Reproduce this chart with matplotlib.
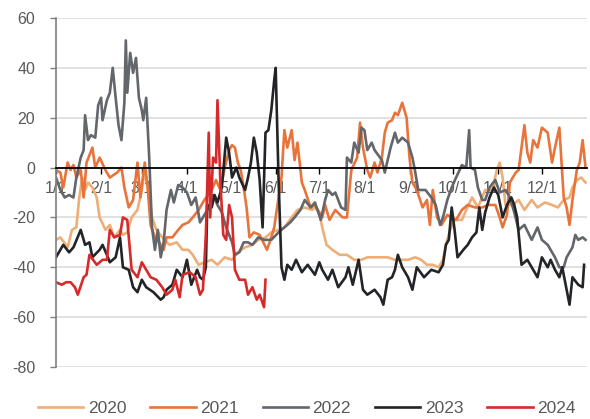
import numpy as np
import matplotlib.pyplot as plt

plt.rcParams['font.family'] = ['Liberation Sans', 'DejaVu Sans']
plt.rcParams['axes.unicode_minus'] = False   # plain hyphen like the original

# month ticks (day of year) and labels
month_days = [0, 31, 59, 90, 120, 151, 181, 212, 243, 273, 304, 334]
month_labels = ['1/1', '2/1', '3/1', '4/1', '5/1', '6/1', '7/1', '8/1', '9/1', '10/1', '11/1', '12/1']

years = ['2020', '2021', '2022', '2023', '2024']
colors = ['#EDAE78', '#E8743B', '#63666B', '#222427', '#D62A2B']

# 2020
d2020 = [0, 3, 8, 11, 14, 16, 18, 20, 22, 25, 28, 30, 34, 37, 40, 44, 46, 49, 52, 56,
         59, 61, 63, 66, 69, 73, 78, 83, 87, 91, 94, 98, 102, 107, 111, 116, 121, 125, 130, 135,
         139, 144, 148, 153, 157, 162, 166, 171, 176, 178, 181, 183, 186, 190, 195, 200, 205, 210, 214, 219,
         224, 228, 233, 238, 242, 247, 251, 255, 259, 263, 266, 268, 271, 274, 279, 282, 286, 290, 295, 300,
         303, 305, 307, 309, 314, 318, 322, 327, 331, 336, 341, 345, 349, 353, 355, 358, 361, 364]
v2020 = [-29, -28, -32, -25, -24, -12, -4, -9, -6, -8, -12, -20, -25, -23, -28, -25, -27, -26, -20, -17,
         -9, -1, -8, -20, -25, -28, -31, -30, -33, -33, -35, -39, -38, -37, -39, -36, -37, -34, -32, -31,
         -29, -28, -26, -25, -24, -20, -17, -16, -17, -16, -18, -24, -31, -33, -35, -35, -37, -37, -36, -36,
         -36, -36, -37, -37, -37, -36, -37, -39, -39, -40, -37, -31, -25, -21, -21, -17, -12, -16, -9, -9,
         -1, 2, -4, -15, -15, -13, -17, -13, -16, -14, -15, -16, -13, -12, -8, -5, -4, -6]

# 2021
d2021 = [0, 3, 5, 8, 10, 12, 14, 17, 19, 21, 25, 27, 30, 34, 37, 42, 45, 47, 50, 53,
         56, 58, 61, 63, 65, 68, 71, 74, 76, 80, 84, 87, 91, 94, 98, 102, 107, 110, 113, 116,
         119, 121, 123, 125, 127, 129, 131, 133, 136, 140, 145, 148, 150, 153, 155, 157, 159, 162, 164, 166,
         169, 171, 175, 178, 183, 185, 188, 192, 197, 200, 203, 207, 209, 211, 214, 216, 219, 221, 224, 226,
         228, 231, 233, 235, 238, 241, 243, 245, 248, 252, 255, 257, 259, 262, 265, 269, 272, 275, 279, 283,
         288, 293, 297, 302, 305, 307, 310, 312, 316, 318, 320, 322, 324, 326, 328, 331, 334, 336, 338, 341,
         343, 346, 349, 351, 353, 355, 358, 360, 362, 364]
v2021 = [-1, -2, -8, 2, -1, 1, -4, -1, -12, 2, 8, 0, 4, -1, -4, -2, 0, -8, -16, -13,
         2, -12, 2, -8, -23, -28, -30, -33, -28, -28, -25, -23, -22, -20, -17, -13, -9, -5, -9, 0,
         7, 9, 8, 2, -1, -8, -16, -28, -26, -27, -33, -28, -24, -12, -4, 15, 8, 15, 3, 10,
         -6, -9, -16, -15, -20, -15, -21, -17, -20, -20, -1, 4, 18, 8, -1, -4, 2, -2, 4, 14,
         18, 19, 22, 21, 26, 20, 4, -6, -9, -16, -13, -23, -9, -20, -23, -19, -20, -21, -17, -15,
         -16, -16, -15, -15, -20, -24, -19, -6, -2, -1, 8, 17, 6, 2, 11, 8, 16, 15, 14, 2,
         8, 16, -12, -16, -23, -13, -1, 2, 11, 0]

# 2022
d2022 = [0, 3, 6, 9, 12, 14, 17, 19, 20, 22, 24, 27, 29, 31, 32, 35, 37, 39, 41, 43,
         45, 47, 48, 49, 51, 53, 55, 57, 59, 60, 62, 64, 66, 68, 70, 72, 74, 76, 79, 81,
         84, 87, 90, 93, 96, 99, 102, 105, 108, 111, 114, 117, 121, 123, 126, 129, 132, 135, 139, 143,
         148, 153, 157, 161, 164, 168, 171, 175, 178, 182, 185, 187, 190, 192, 196, 199, 200, 203, 205, 208,
         210, 212, 214, 217, 219, 224, 226, 230, 233, 235, 238, 242, 245, 247, 249, 254, 258, 261, 264, 266,
         269, 272, 275, 279, 282, 284, 285, 288, 290, 293, 295, 298, 302, 305, 309, 312, 315, 318, 322, 327,
         331, 334, 338, 343, 346, 349, 351, 355, 357, 359, 362, 364]
v2022 = [-4, -9, -12, -11, -12, -4, 4, 7, 21, 11, 13, 12, 25, 28, 19, 27, 30, 40, 28, 17,
         11, 26, 51, 30, 46, 38, 44, 28, 23, 19, 28, 5, -24, -33, -25, -36, -30, -17, -9, -14,
         -7, -8, -10, -15, -12, -22, -19, -16, -11, -15, -18, -24, -30, -35, -34, -30, -30, -31, -28, -29,
         -29, -26, -24, -22, -20, -17, -13, -16, -14, -21, -13, -9, -11, -10, -16, -17, 4, 2, 10, 6,
         16, 15, 7, 10, 7, 3, -2, 8, 14, 10, 12, 10, 4, -2, -9, -9, -12, -15, -23, -20,
         -13, -8, -4, 1, 0, 15, 0, -1, -8, -13, -13, -8, -5, -10, -9, -12, -18, -25, -23, -29,
         -24, -29, -31, -36, -40, -40, -36, -32, -27, -29, -28, -29]

# 2023
d2023 = [0, 5, 9, 12, 17, 20, 23, 25, 30, 32, 35, 37, 41, 44, 46, 50, 53, 56, 59, 62,
         67, 72, 74, 76, 80, 83, 87, 90, 93, 97, 99, 101, 103, 104, 107, 109, 111, 114, 117, 119,
         121, 124, 126, 130, 132, 134, 136, 138, 140, 142, 144, 146, 148, 150, 151, 153, 155, 157, 159, 162,
         165, 169, 173, 178, 181, 183, 187, 190, 194, 199, 201, 204, 208, 211, 214, 219, 223, 225, 228, 231,
         233, 235, 238, 242, 245, 248, 253, 258, 263, 266, 268, 270, 272, 274, 276, 280, 283, 286, 289, 291,
         293, 295, 298, 301, 304, 307, 310, 313, 315, 317, 320, 324, 327, 331, 334, 338, 340, 343, 346, 348,
         351, 353, 355, 359, 362, 363]
v2023 = [-36, -31, -34, -32, -25, -31, -30, -36, -33, -31, -35, -38, -36, -28, -40, -41, -48, -50, -45, -48,
         -50, -53, -52, -49, -47, -41, -44, -37, -47, -41, -44, -45, -40, -15, -16, -11, -14, -8, 12, 6,
         -4, 0, -4, -9, -4, 2, 12, 6, -5, -24, 14, 15, 23, 35, 40, -5, -40, -45, -39, -41,
         -37, -42, -39, -43, -38, -41, -45, -41, -48, -44, -40, -47, -37, -49, -51, -49, -52, -55, -45, -44,
         -41, -35, -40, -44, -49, -40, -44, -41, -42, -39, -31, -29, -16, -25, -36, -33, -31, -28, -26, -16,
         -25, -18, -12, -8, -11, -20, -15, -12, -15, -20, -39, -37, -40, -44, -36, -40, -37, -41, -44, -40,
         -49, -55, -44, -47, -48, -39]

# 2024 (until late May)
d2024 = [0, 4, 7, 10, 13, 15, 19, 21, 23, 28, 32, 35, 37, 40, 44, 46, 49, 52, 56, 59,
         65, 69, 73, 76, 80, 82, 85, 87, 92, 96, 99, 101, 103, 105, 106, 108, 110, 111, 113, 115,
         117, 119, 121, 123, 126, 130, 132, 135, 138, 140, 143, 144]
v2024 = [-46, -47, -46, -46, -48, -51, -44, -43, -35, -39, -37, -37, -25, -28, -27, -20, -21, -41, -44, -38,
         -44, -45, -48, -51, -49, -45, -52, -43, -42, -44, -51, -49, -27, 14, -20, 4, 2, 27, -6, -27,
         -29, -15, -20, -41, -45, -45, -51, -48, -53, -51, -56, -45]

days = [d2020, d2021, d2022, d2023, d2024]
vals = [v2020, v2021, v2022, v2023, v2024]

fig = plt.figure(figsize=(5.9, 4.19), dpi=100)
ax = fig.add_axes([0.0949, 0.1241, 0.9, 0.833])

for d, v, c, lab in zip(days, vals, colors, years):
    ax.plot(d, v, color=c, linewidth=1.9, label=lab, solid_joinstyle='round')

ax.set_xlim(0, 365)
ax.set_ylim(-80, 60)
ax.set_yticks(np.arange(-80, 61, 20))
ax.yaxis.grid(True, color='#D9D9D9', linewidth=1.1)
ax.set_axisbelow(True)

# x axis sits on the zero line
ax.spines['bottom'].set_position(('data', 0))
ax.spines['bottom'].set_color('black')
ax.spines['bottom'].set_linewidth(1.3)
ax.spines['left'].set_color('#7F7F7F')
ax.spines['left'].set_linewidth(1.2)
ax.spines['top'].set_visible(False)
ax.spines['right'].set_visible(False)

ax.set_xticks(month_days)
ax.set_xticklabels(month_labels)
ax.tick_params(axis='x', direction='out', length=4, width=1, color='black',
               labelsize=11.5, labelcolor='#595959', pad=6)
ax.tick_params(axis='y', direction='out', length=4, width=1, color='#7F7F7F',
               labelsize=11.5, labelcolor='#595959', pad=11)

fig.legend(loc='center', bbox_to_anchor=(0.52, 0.025), ncol=5, frameon=False,
           fontsize=12.5, labelcolor='#595959', handlelength=2.6, handletextpad=0.25,
           columnspacing=1.4, borderpad=0)

fig.savefig('out.png', dpi=100)
